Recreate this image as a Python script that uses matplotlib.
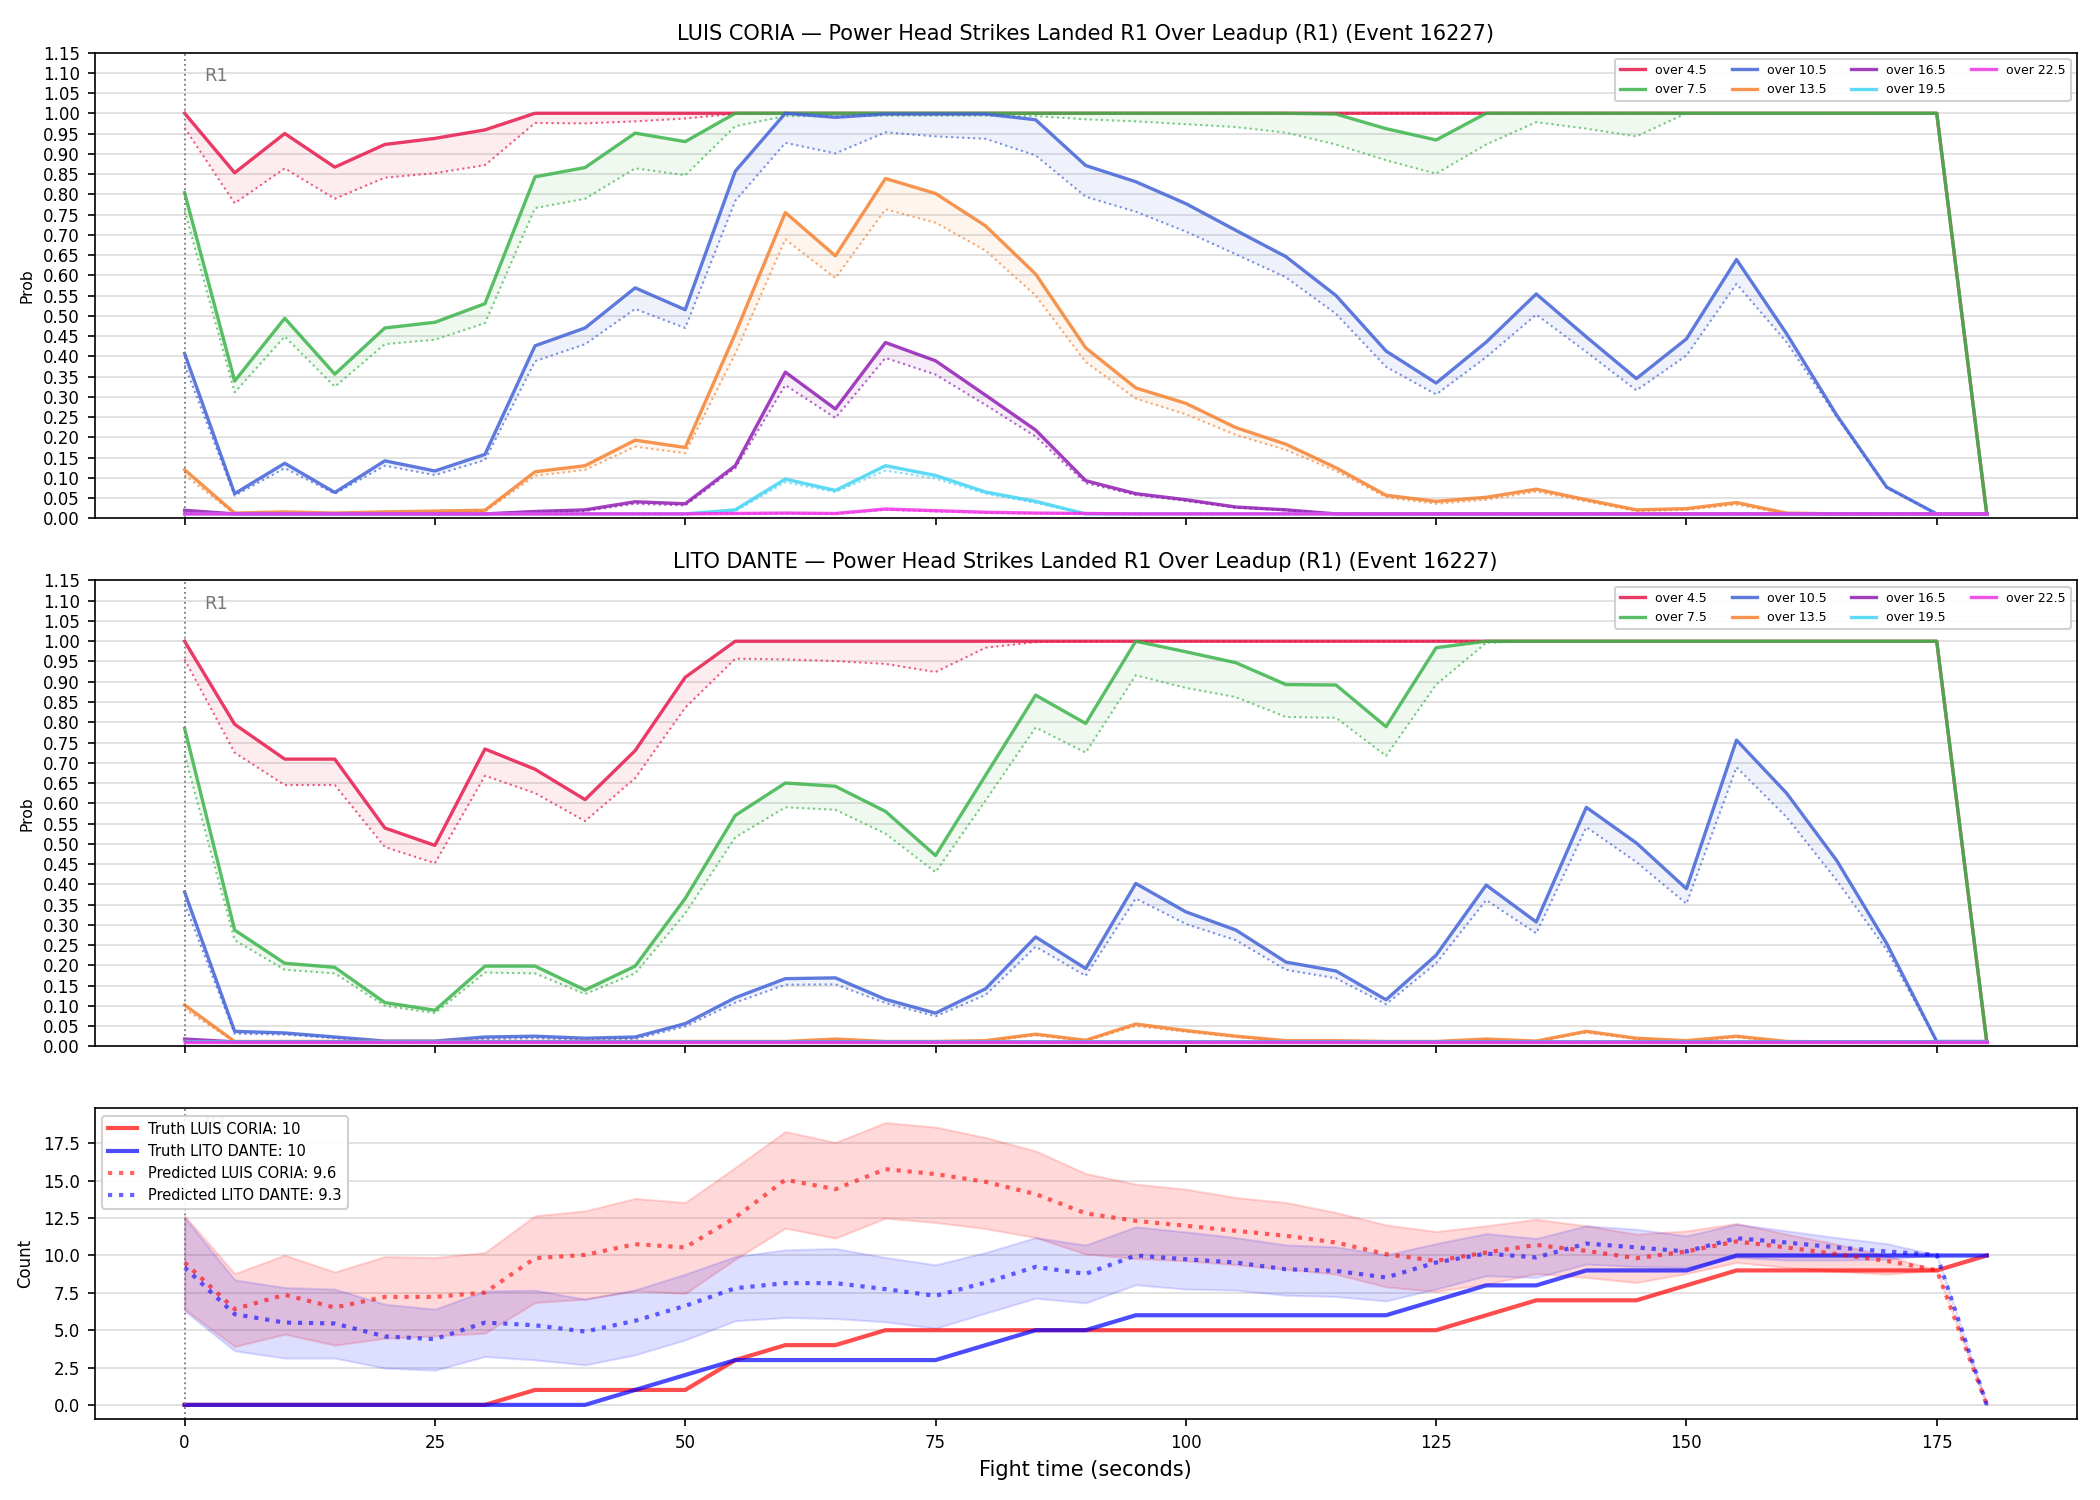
import matplotlib
matplotlib.use("Agg")
import matplotlib.pyplot as plt
import matplotlib.transforms as mtransforms
import numpy as np

# fight time in seconds, one sample every 5 s
t = list(range(0, 181, 5))

fighters = ["LUIS CORIA", "LITO DANTE"]
thresholds = ["over 4.5", "over 7.5", "over 10.5", "over 13.5", "over 16.5", "over 19.5", "over 22.5"]
colors = ["#e6194b", "#3cb44b", "#4363d8", "#f58231", "#911eb4", "#42d4f4", "#f032e6"]

# ---- LUIS CORIA, solid = upper, dotted = lower
coria_45_hi = [1.0, 0.853, 0.950, 0.867, 0.923, 0.938, 0.959, 1.0, 1.0, 1.0, 1.0, 1.0, 1.0, 1.0, 1.0, 1.0, 1.0, 1.0, 1.0,
               1.0, 1.0, 1.0, 1.0, 1.0, 1.0, 1.0, 1.0, 1.0, 1.0, 1.0, 1.0, 1.0, 1.0, 1.0, 1.0, 1.0, 0.01]
coria_45_lo = [0.964, 0.778, 0.864, 0.789, 0.841, 0.852, 0.872, 0.976, 0.975, 0.980, 0.987, 0.999, 1.0, 1.0, 1.0, 1.0, 1.0,
               1.0, 1.0, 1.0, 1.0, 1.0, 1.0, 1.0, 1.0, 1.0, 1.0, 1.0, 1.0, 1.0, 1.0, 1.0, 1.0, 1.0, 1.0, 1.0, 0.01]
coria_75_hi = [0.804, 0.339, 0.494, 0.356, 0.470, 0.484, 0.530, 0.843, 0.866, 0.951, 0.930, 1.0, 1.0, 1.0, 1.0, 1.0, 1.0,
               1.0, 1.0, 1.0, 1.0, 1.0, 1.0, 0.998, 0.962, 0.934, 1.0, 1.0, 1.0, 1.0, 1.0, 1.0, 1.0, 1.0, 1.0, 1.0, 0.01]
coria_75_lo = [0.76, 0.311, 0.449, 0.325, 0.430, 0.441, 0.482, 0.766, 0.789, 0.864, 0.847, 0.968, 0.993, 0.993, 0.994,
               0.994, 0.994, 0.993, 0.985, 0.980, 0.973, 0.966, 0.952, 0.923, 0.884, 0.851, 0.923, 0.978, 0.962, 0.943,
               1.0, 1.0, 1.0, 1.0, 1.0, 1.0, 0.01]
coria_105_hi = [0.407, 0.061, 0.136, 0.064, 0.142, 0.117, 0.158, 0.426, 0.470, 0.569, 0.515, 0.857, 1.0, 0.990, 0.998,
                0.998, 0.998, 0.984, 0.871, 0.831, 0.777, 0.711, 0.646, 0.550, 0.413, 0.334, 0.435, 0.554, 0.448, 0.345,
                0.443, 0.639, 0.456, 0.255, 0.077, 0.011, 0.011]
coria_105_lo = [0.378, 0.056, 0.124, 0.061, 0.130, 0.107, 0.144, 0.388, 0.430, 0.517, 0.470, 0.784, 0.927, 0.901, 0.953,
                0.943, 0.937, 0.896, 0.794, 0.757, 0.708, 0.652, 0.595, 0.505, 0.374, 0.306, 0.398, 0.503, 0.411, 0.316,
                0.402, 0.579, 0.435, 0.251, 0.075, 0.011, 0.011]
coria_135_hi = [0.120, 0.013, 0.016, 0.013, 0.016, 0.018, 0.020, 0.115, 0.130, 0.193, 0.175, 0.456, 0.755, 0.648, 0.839,
                0.802, 0.722, 0.603, 0.421, 0.322, 0.284, 0.224, 0.183, 0.125, 0.057, 0.042, 0.052, 0.072, 0.046, 0.021,
                0.024, 0.039, 0.013, 0.011, 0.011, 0.011, 0.011]
coria_135_lo = [0.107, 0.011, 0.013, 0.011, 0.013, 0.015, 0.017, 0.105, 0.120, 0.177, 0.161, 0.407, 0.689, 0.593, 0.763,
                0.730, 0.661, 0.550, 0.386, 0.296, 0.257, 0.206, 0.169, 0.117, 0.052, 0.036, 0.046, 0.066, 0.042, 0.018,
                0.021, 0.034, 0.011, 0.011, 0.011, 0.011, 0.011]
coria_165_hi = [0.020, 0.011, 0.011, 0.011, 0.011, 0.011, 0.011, 0.017, 0.021, 0.041, 0.036, 0.130, 0.361, 0.270, 0.434,
                0.389, 0.304, 0.218, 0.093, 0.061, 0.046, 0.028, 0.021, 0.011, 0.011, 0.011, 0.011, 0.011, 0.011, 0.011,
                0.011, 0.011, 0.011, 0.011, 0.011, 0.011, 0.011]
coria_165_lo = [0.015, 0.011, 0.011, 0.011, 0.011, 0.011, 0.011, 0.015, 0.018, 0.036, 0.032, 0.124, 0.329, 0.248, 0.396,
                0.355, 0.280, 0.202, 0.087, 0.058, 0.043, 0.026, 0.020, 0.011, 0.011, 0.011, 0.011, 0.011, 0.011, 0.011,
                0.011, 0.011, 0.011, 0.011, 0.011, 0.011, 0.011]
coria_195_hi = [0.011, 0.011, 0.011, 0.011, 0.011, 0.011, 0.011, 0.011, 0.011, 0.011, 0.011, 0.021, 0.097, 0.069, 0.130,
                0.106, 0.065, 0.042, 0.011, 0.011, 0.011, 0.011, 0.011, 0.011, 0.011, 0.011, 0.011, 0.011, 0.011, 0.011,
                0.011, 0.011, 0.011, 0.011, 0.011, 0.011, 0.011]
coria_195_lo = [0.011, 0.011, 0.011, 0.011, 0.011, 0.011, 0.011, 0.011, 0.011, 0.011, 0.011, 0.018, 0.089, 0.065, 0.118,
                0.098, 0.061, 0.038, 0.011, 0.011, 0.011, 0.011, 0.011, 0.011, 0.011, 0.011, 0.011, 0.011, 0.011, 0.011,
                0.011, 0.011, 0.011, 0.011, 0.011, 0.011, 0.011]
coria_225_hi = [0.011, 0.011, 0.011, 0.011, 0.011, 0.011, 0.011, 0.011, 0.011, 0.011, 0.011, 0.012, 0.013, 0.012, 0.023,
                0.019, 0.015, 0.013, 0.012, 0.011, 0.011, 0.011, 0.011, 0.011, 0.011, 0.011, 0.011, 0.011, 0.011, 0.011,
                0.011, 0.011, 0.011, 0.011, 0.011, 0.011, 0.011]
coria_225_lo = [0.011, 0.011, 0.011, 0.011, 0.011, 0.011, 0.011, 0.011, 0.011, 0.011, 0.011, 0.011, 0.012, 0.011, 0.021,
                0.017, 0.014, 0.012, 0.011, 0.011, 0.011, 0.011, 0.011, 0.011, 0.011, 0.011, 0.011, 0.011, 0.011, 0.011,
                0.011, 0.011, 0.011, 0.011, 0.011, 0.011, 0.011]

# ---- LITO DANTE
dante_45_hi = [1.0, 0.795, 0.709, 0.709, 0.539, 0.496, 0.734, 0.684, 0.609, 0.730, 0.911, 1.0, 1.0, 1.0, 1.0, 1.0, 1.0,
               1.0, 1.0, 1.0, 1.0, 1.0, 1.0, 1.0, 1.0, 1.0, 1.0, 1.0, 1.0, 1.0, 1.0, 1.0, 1.0, 1.0, 1.0, 1.0, 0.01]
dante_45_lo = [0.955, 0.725, 0.645, 0.645, 0.492, 0.452, 0.668, 0.625, 0.556, 0.662, 0.836, 0.957, 0.955, 0.951, 0.944,
               0.924, 0.984, 0.998, 1.0, 1.0, 1.0, 1.0, 1.0, 1.0, 1.0, 1.0, 1.0, 1.0, 1.0, 1.0, 1.0, 1.0, 1.0, 1.0, 1.0,
               1.0, 0.01]
dante_75_hi = [0.785, 0.287, 0.205, 0.195, 0.108, 0.089, 0.198, 0.198, 0.139, 0.198, 0.365, 0.570, 0.650, 0.642, 0.580,
               0.471, 0.669, 0.867, 0.797, 1.0, 0.974, 0.947, 0.893, 0.892, 0.789, 0.984, 1.0, 1.0, 1.0, 1.0, 1.0, 1.0,
               1.0, 1.0, 1.0, 1.0, 0.01]
dante_75_lo = [0.72, 0.262, 0.189, 0.180, 0.100, 0.082, 0.182, 0.180, 0.129, 0.180, 0.328, 0.516, 0.590, 0.584, 0.525,
               0.430, 0.607, 0.787, 0.725, 0.916, 0.885, 0.862, 0.813, 0.811, 0.717, 0.893, 0.996, 1.0, 1.0, 1.0, 1.0,
               1.0, 1.0, 1.0, 1.0, 1.0, 0.01]
dante_105_hi = [0.381, 0.037, 0.033, 0.023, 0.013, 0.013, 0.023, 0.025, 0.020, 0.023, 0.056, 0.120, 0.167, 0.169, 0.116,
                0.082, 0.142, 0.270, 0.192, 0.402, 0.332, 0.287, 0.208, 0.186, 0.115, 0.225, 0.398, 0.307, 0.590, 0.502,
                0.389, 0.756, 0.625, 0.459, 0.254, 0.012, 0.012]
dante_105_lo = [0.352, 0.031, 0.029, 0.020, 0.011, 0.011, 0.018, 0.020, 0.016, 0.018, 0.049, 0.108, 0.152, 0.153, 0.107,
                0.074, 0.127, 0.246, 0.174, 0.365, 0.302, 0.262, 0.189, 0.168, 0.104, 0.205, 0.361, 0.279, 0.541, 0.455,
                0.352, 0.689, 0.566, 0.410, 0.238, 0.012, 0.012]
dante_135_hi = [0.102, 0.012, 0.012, 0.012, 0.012, 0.012, 0.012, 0.012, 0.012, 0.012, 0.012, 0.012, 0.012, 0.018, 0.012,
                0.012, 0.014, 0.030, 0.015, 0.055, 0.039, 0.025, 0.014, 0.014, 0.012, 0.012, 0.018, 0.013, 0.037, 0.020,
                0.014, 0.025, 0.012, 0.011, 0.011, 0.011, 0.011]
dante_135_lo = [0.092, 0.011, 0.011, 0.011, 0.011, 0.011, 0.011, 0.011, 0.011, 0.011, 0.011, 0.011, 0.011, 0.016, 0.011,
                0.011, 0.013, 0.027, 0.013, 0.050, 0.036, 0.023, 0.012, 0.012, 0.011, 0.011, 0.016, 0.012, 0.034, 0.018,
                0.012, 0.022, 0.011, 0.011, 0.011, 0.011, 0.011]
dante_165_hi = [0.018, 0.011, 0.011, 0.011, 0.011, 0.011, 0.011, 0.011, 0.011, 0.011, 0.011, 0.011, 0.011, 0.011, 0.011,
                0.011, 0.011, 0.011, 0.011, 0.011, 0.011, 0.011, 0.011, 0.011, 0.011, 0.011, 0.011, 0.011, 0.011, 0.011,
                0.011, 0.011, 0.011, 0.011, 0.011, 0.011, 0.011]
dante_165_lo = [0.015, 0.011, 0.011, 0.011, 0.011, 0.011, 0.011, 0.011, 0.011, 0.011, 0.011, 0.011, 0.011, 0.011, 0.011,
                0.011, 0.011, 0.011, 0.011, 0.011, 0.011, 0.011, 0.011, 0.011, 0.011, 0.011, 0.011, 0.011, 0.011, 0.011,
                0.011, 0.011, 0.011, 0.011, 0.011, 0.011, 0.011]
dante_195_hi = [0.012, 0.011, 0.011, 0.011, 0.011, 0.011, 0.011, 0.011, 0.011, 0.011, 0.011, 0.011, 0.011, 0.011, 0.011,
                0.011, 0.011, 0.011, 0.011, 0.011, 0.011, 0.011, 0.011, 0.011, 0.011, 0.011, 0.011, 0.011, 0.011, 0.011,
                0.011, 0.011, 0.011, 0.011, 0.011, 0.011, 0.011]
dante_195_lo = [0.011, 0.011, 0.011, 0.011, 0.011, 0.011, 0.011, 0.011, 0.011, 0.011, 0.011, 0.011, 0.011, 0.011, 0.011,
                0.011, 0.011, 0.011, 0.011, 0.011, 0.011, 0.011, 0.011, 0.011, 0.011, 0.011, 0.011, 0.011, 0.011, 0.011,
                0.011, 0.011, 0.011, 0.011, 0.011, 0.011, 0.011]
dante_225_hi = [0.011, 0.011, 0.011, 0.011, 0.011, 0.011, 0.011, 0.011, 0.011, 0.011, 0.011, 0.011, 0.011, 0.011, 0.011,
                0.011, 0.011, 0.011, 0.011, 0.011, 0.011, 0.011, 0.011, 0.011, 0.011, 0.011, 0.011, 0.011, 0.011, 0.011,
                0.011, 0.011, 0.011, 0.011, 0.011, 0.011, 0.011]
dante_225_lo = [0.011, 0.011, 0.011, 0.011, 0.011, 0.011, 0.011, 0.011, 0.011, 0.011, 0.011, 0.011, 0.011, 0.011, 0.011,
                0.011, 0.011, 0.011, 0.011, 0.011, 0.011, 0.011, 0.011, 0.011, 0.011, 0.011, 0.011, 0.011, 0.011, 0.011,
                0.011, 0.011, 0.011, 0.011, 0.011, 0.011, 0.011]

# ---- cumulative counts
truth_coria = [0, 0, 0, 0, 0, 0, 0, 1, 1, 1, 1, 3, 4, 4, 5, 5, 5, 5, 5, 5, 5, 5, 5, 5, 5, 5, 6, 7, 7, 7, 8, 9, 9, 9, 9,
               9, 10]
truth_dante = [0, 0, 0, 0, 0, 0, 0, 0, 0, 1, 2, 3, 3, 3, 3, 3, 4, 5, 5, 6, 6, 6, 6, 6, 6, 7, 8, 8, 9, 9, 9, 10, 10, 10,
               10, 10, 10]
pred_coria = [9.53, 6.41, 7.37, 6.52, 7.23, 7.23, 7.52, 9.82, 10.04, 10.76, 10.54, 12.54, 15.07, 14.44, 15.78, 15.45,
              14.93, 14.11, 12.82, 12.32, 11.99, 11.65, 11.32, 10.87, 10.09, 9.64, 10.2, 10.71, 10.31, 9.82, 10.27,
              10.94, 10.54, 10.09, 9.64, 9.02, 0.0]
pred_dante = [9.2, 6.07, 5.51, 5.45, 4.58, 4.40, 5.51, 5.33, 4.91, 5.63, 6.63, 7.81, 8.15, 8.15, 7.75, 7.30, 8.19,
              9.24, 8.77, 10.0, 9.75, 9.53, 9.08, 8.97, 8.53, 9.53, 10.13, 9.87, 10.80, 10.54, 10.27, 11.16, 10.87,
              10.54, 10.27, 10.04, 0.0]
coria_band_hi = [12.66, 8.79, 10.02, 8.9, 9.93, 9.87, 10.2, 12.66, 12.99, 13.82, 13.55, 15.89, 18.3, 17.57, 18.9, 18.6,
                 17.9, 17.0, 15.49, 14.78, 14.44, 13.88, 13.55, 12.88, 12.05, 11.61, 11.99, 12.43, 11.99, 11.43, 11.65,
                 12.14, 11.43, 10.76, 9.98, 9.02, 0.0]
coria_band_lo = [6.41, 3.91, 4.73, 4.0, 4.46, 4.62, 4.8, 6.85, 7.08, 7.63, 7.46, 9.75, 11.83, 11.16, 12.5, 12.21, 11.8,
                 11.2, 10.1, 9.8, 9.64, 9.38, 9.08, 8.75, 7.9, 7.59, 8.08, 8.79, 8.53, 8.19, 8.79, 9.53, 9.2, 8.93, 8.75,
                 9.0, 0.0]
dante_band_hi = [12.54, 8.37, 7.86, 7.75, 6.74, 6.41, 7.63, 7.68, 7.08, 7.7, 8.75, 9.93, 10.38, 10.47, 9.87, 9.38, 10.2,
                 11.2, 10.7, 11.92, 11.58, 11.2, 10.71, 10.58, 10.04, 10.8, 11.47, 11.14, 11.99, 11.76, 11.32, 12.1,
                 11.65, 11.2, 10.8, 10.04, 0.0]
dante_band_lo = [6.29, 3.62, 3.13, 3.13, 2.46, 2.32, 3.24, 3.01, 2.68, 3.35, 4.35, 5.63, 5.85, 5.78, 5.56, 5.13, 6.14,
                 7.14, 6.83, 8.04, 7.75, 7.68, 7.34, 7.25, 6.96, 7.75, 8.64, 8.53, 9.42, 9.26, 9.2, 9.87, 9.69, 9.69,
                 9.75, 10.04, 0.0]

final_truth = ["10", "10"]
final_pred = ["9.6", "9.3"]
event = "16227"

coria_hi = [coria_45_hi, coria_75_hi, coria_105_hi, coria_135_hi, coria_165_hi, coria_195_hi, coria_225_hi]
coria_lo = [coria_45_lo, coria_75_lo, coria_105_lo, coria_135_lo, coria_165_lo, coria_195_lo, coria_225_lo]
dante_hi = [dante_45_hi, dante_75_hi, dante_105_hi, dante_135_hi, dante_165_hi, dante_195_hi, dante_225_hi]
dante_lo = [dante_45_lo, dante_75_lo, dante_105_lo, dante_135_lo, dante_165_lo, dante_195_lo, dante_225_lo]


def round_marker(ax):
    ax.axvline(0, color="gray", linestyle=":", linewidth=0.9)
    trans = mtransforms.blended_transform_factory(ax.transData, ax.transAxes)
    ax.text(2, 0.95, "R1", transform=trans, color="dimgray", fontsize=8.5, va="center", alpha=0.9)


def prob_panel(ax, name, his, los):
    for lab, col, hi, lo in zip(thresholds, colors, his, los):
        ax.fill_between(t, lo, hi, color=col, alpha=0.08, linewidth=0)
        ax.plot(t, lo, color=col, linestyle=":", linewidth=1.0, alpha=0.7)
        ax.plot(t, hi, color=col, linewidth=1.6, alpha=0.85, label=lab)
    round_marker(ax)
    ax.set_ylim(0, 1.15)
    ax.set_yticks(np.arange(0, 1.151, 0.05))
    ax.yaxis.set_major_formatter(matplotlib.ticker.FormatStrFormatter("%.2f"))
    ax.set_ylabel("Prob", fontsize=7.5)
    ax.grid(axis="y", color="#dddddd", linewidth=0.8)
    ax.set_axisbelow(True)
    ax.tick_params(labelsize=8)
    ax.set_title(f"{name} \u2014 Power Head Strikes Landed R1 Over Leadup (R1) (Event {event})", fontsize=10)
    ax.legend(loc="upper right", ncol=4, fontsize=6, framealpha=0.9)


fig, axes = plt.subplots(3, 1, figsize=(14, 10), dpi=150, sharex=True,
                         gridspec_kw={"height_ratios": [3, 3, 2]})
fig.subplots_adjust(left=0.045, right=0.989, top=0.965, bottom=0.054, hspace=0.15)

prob_panel(axes[0], fighters[0], coria_hi, coria_lo)
prob_panel(axes[1], fighters[1], dante_hi, dante_lo)

# counts panel
ax = axes[2]
ax.fill_between(t, coria_band_lo, coria_band_hi, color="red", alpha=0.15)
ax.fill_between(t, dante_band_lo, dante_band_hi, color="blue", alpha=0.13)
ax.plot(t, truth_coria, color="red", linewidth=2, alpha=0.7, label=f"Truth {fighters[0]}: {final_truth[0]}")
ax.plot(t, truth_dante, color="blue", linewidth=2, alpha=0.7, label=f"Truth {fighters[1]}: {final_truth[1]}")
ax.plot(t, pred_coria, color="red", linewidth=2, linestyle=":", alpha=0.6,
        label=f"Predicted {fighters[0]}: {final_pred[0]}")
ax.plot(t, pred_dante, color="blue", linewidth=2, linestyle=":", alpha=0.6,
        label=f"Predicted {fighters[1]}: {final_pred[1]}")
round_marker(ax)
ax.set_ylabel("Count", fontsize=8)
ax.set_xlabel("Fight time (seconds)", fontsize=10)
ax.grid(axis="y", color="#dddddd", linewidth=0.8)
ax.set_axisbelow(True)
ax.tick_params(labelsize=8)
ax.legend(loc="upper left", fontsize=7, framealpha=0.9)

fig.savefig("out.png", dpi=150)
